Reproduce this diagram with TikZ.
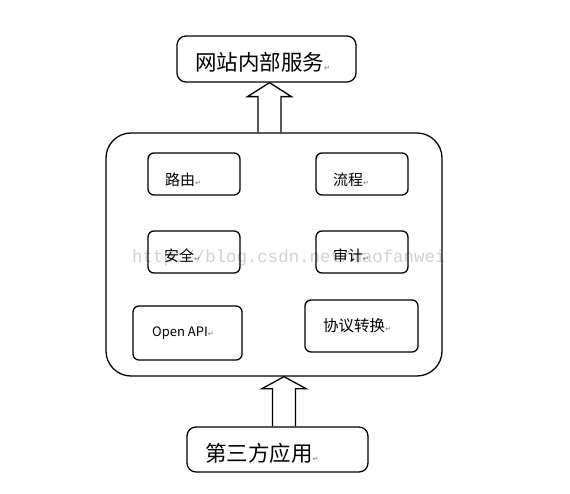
\documentclass[tikz,border=0pt]{standalone}
\usepackage{fontspec}
\setmainfont{Noto Sans CJK SC}
\newfontfamily\symfont{DejaVu Sans}
\newfontfamily\wmfont{Liberation Mono}
\usetikzlibrary{calc}
\newcommand{\retmark}{{\symfont\fontsize{7}{7}\selectfont\textcolor{black!55}{↵}}}
\begin{document}
\begin{tikzpicture}[x=1pt,y=-1pt,
 box/.style={draw, line width=1.3pt, rounded corners=6pt, fill=white, inner sep=0pt},
 lbl/.style={anchor=west, inner sep=0pt, font=\fontsize{15}{15}\selectfont},
 big/.style={anchor=west, inner sep=0pt, font=\fontsize{21.5}{22}\selectfont},
 blk/.style={draw, line width=1.3pt, line join=miter}]
\useasboundingbox[fill=white] (0,0) rectangle (570,494);
% boxes
\node[box, rounded corners=9pt, minimum width=179pt, minimum height=46pt] (top) at (266.5,59) {};
\node[box, rounded corners=25pt, minimum width=336pt, minimum height=243pt] (main) at (274,254.5) {};
\node[box, minimum width=92pt, minimum height=42pt] (r1) at (194,174) {};
\node[box, minimum width=92pt, minimum height=42pt] (r2) at (362,174) {};
\node[box, minimum width=92pt, minimum height=42pt] (r3) at (194,252) {};
\node[box, minimum width=92pt, minimum height=42pt] (r4) at (362,252) {};
\node[box, minimum width=109pt, minimum height=54pt] (r5) at (187.5,333) {};
\node[box, minimum width=113pt, minimum height=52pt] (r6) at (361.5,326) {};
\node[box, rounded corners=9pt, minimum width=181pt, minimum height=45pt] (bot) at (277.5,449.5) {};
% block arrows
\path (269.5,0) coordinate (ax1) (284,0) coordinate (ax2);
\coordinate (a1t) at (ax1 |- top.south);
\coordinate (a1b) at (ax1 |- main.north);
\draw[blk] ($(a1b)+(-11.5,0)$) -- ($(a1t)+(-11.5,14)$) -- ($(a1t)+(-22,14)$) -- (a1t)
  -- ($(a1t)+(22,14)$) -- ($(a1t)+(11.5,14)$) -- ($(a1b)+(11.5,0)$);
\coordinate (a2t) at (ax2 |- main.south);
\coordinate (a2b) at (ax2 |- bot.north);
\draw[blk] ($(a2b)+(-11.5,0)$) -- ($(a2t)+(-11.5,12)$) -- ($(a2t)+(-22,12)$) -- (a2t)
  -- ($(a2t)+(22,12)$) -- ($(a2t)+(11.5,12)$) -- ($(a2b)+(11.5,0)$);
% labels
\node[big] (ttop) at (195,62) {网站内部服务\retmark};
\node[lbl] (t1) at (165,180) {路由\retmark};
\node[lbl] (t2) at (333,180) {流程\retmark};
\node[lbl] (t3) at (164,256) {安全\retmark};
\node[lbl] (t4) at (333,256) {审计\retmark};
\node[lbl, font=\fontsize{13}{13}\selectfont] (t5) at (152,333) {Open API\retmark};
\node[lbl, font=\fontsize{15.5}{16}\selectfont] (t6) at (323,326) {协议转换\retmark};
\node[big] (tbot) at (205,453) {第三方应用\retmark};
% watermark
\node[anchor=west, inner sep=0pt, font=\wmfont\fontsize{17.4}{18}\selectfont, text=black, text opacity=0.18] (wm) at (132,258) {http://blog.csdn.net/maofanwei};
\end{tikzpicture}
\end{document}
